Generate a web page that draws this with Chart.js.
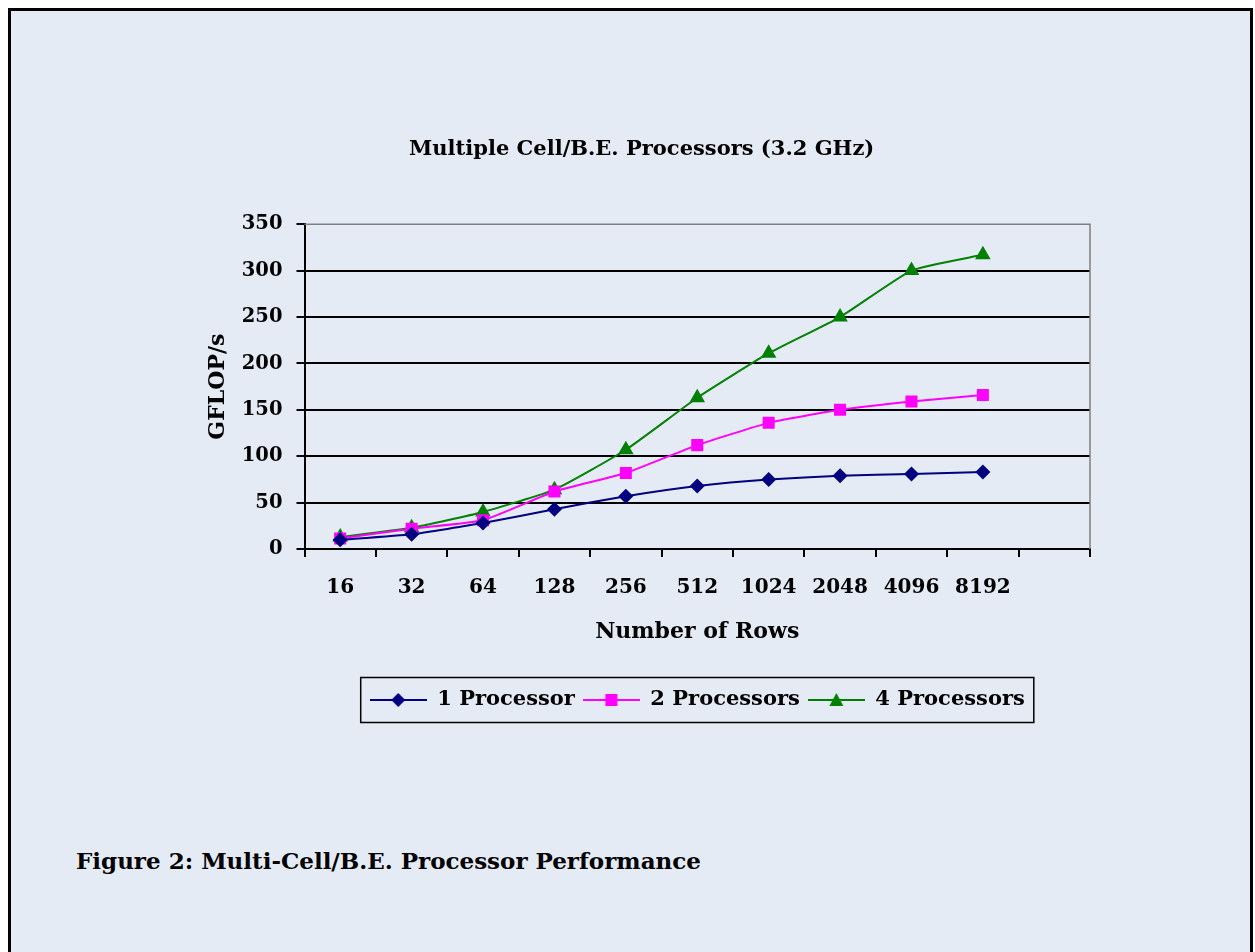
<!DOCTYPE html>
<html lang="en">
<head>
    <meta charset="UTF-8">
    <title>Multiple Cell/B.E. Processors</title>
    <style>
        body { margin: 0; background: #ffffff; font-family: 'DejaVu Serif', serif; }
        .frame { position: absolute; left: 8px; top: 8px; width: 1239px; height: 960px; background: #e4ebf5; border: 3px solid #000; border-bottom: none; }
        #wrap { position: absolute; left: 0; top: 0; width: 1255px; height: 760px; }
        .caption { position: absolute; left: 76px; top: 847px; font-weight: bold; font-size: 23px; color: #000; }
    </style>
</head>
<body>

<div class="frame"></div>
<div id="wrap"><canvas id="perfChart"></canvas></div>
<div class="caption">Figure 2: Multi-Cell/B.E. Processor Performance</div>

<script src="https://cdn.jsdelivr.net/npm/chart.js"></script>
<script>
    // category labels (last slot is empty in the original)
    const rowLabels = ['16', '32', '64', '128', '256', '512', '1024', '2048', '4096', '8192', ''];
    const seriesNames = ['1 Processor', '2 Processors', '4 Processors'];
    const oneProc = [10, 16, 28, 43, 57, 68, 75, 79, 81, 83];
    const twoProc = [11.5, 22, 31, 62, 82, 112, 136, 150, 159, 166];
    const fourProc = [13, 23, 40, 64, 107, 163, 211, 250, 300, 317];
    const yTicks = [0, 50, 100, 150, 200, 250, 300, 350];

    const FONT = 'DejaVu Serif';
    const colors = ['#000080', '#ff00ff', '#008000'];
    const markers = ['rectRot', 'rect', 'triangle'];
    const radii = [7.5, 8.5, 9];

    // small legend symbol: line with marker in the middle
    function legendSymbol(color, style) {
        const c = document.createElement('canvas');
        c.width = 57; c.height = 18;
        const g = c.getContext('2d');
        g.strokeStyle = color; g.fillStyle = color; g.lineWidth = 2;
        g.beginPath(); g.moveTo(0, 9); g.lineTo(57, 9); g.stroke();
        g.beginPath();
        if (style === 'rectRot') {
            g.moveTo(28.5, 2); g.lineTo(35.5, 9); g.lineTo(28.5, 16); g.lineTo(21.5, 9);
        } else if (style === 'rect') {
            g.rect(22.5, 3, 12, 12);
        } else {
            g.moveTo(28.5, 2); g.lineTo(35.5, 15); g.lineTo(21.5, 15);
        }
        g.closePath(); g.fill();
        return c;
    }

    const frameLines = {
        id: 'frameLines',
        afterDraw(chart) {
            const a = chart.chartArea, ctx = chart.ctx;
            ctx.save();
            ctx.strokeStyle = '#808080'; ctx.lineWidth = 1.5;
            ctx.beginPath();
            ctx.moveTo(a.left, a.top); ctx.lineTo(a.right, a.top); ctx.lineTo(a.right, a.bottom);
            ctx.stroke();
            // legend border
            const boxes = chart.legend.legendHitBoxes;
            if (boxes && boxes.length) {
                const l = Math.min(...boxes.map(b => b.left)) - 9;
                const r = Math.max(...boxes.map(b => b.left + b.width)) + 9;
                const t = Math.min(...boxes.map(b => b.top)) - 12;
                const btm = Math.max(...boxes.map(b => b.top + b.height)) + 12;
                ctx.strokeStyle = '#000'; ctx.lineWidth = 1.5;
                ctx.strokeRect(l, t, r - l, btm - t);
            }
            ctx.restore();
        }
    };

    const ctx = document.getElementById('perfChart').getContext('2d');
    const chart = new Chart(ctx, {
        type: 'line',
        data: {
            labels: rowLabels,
            datasets: [oneProc, twoProc, fourProc].map((d, i) => ({
                label: seriesNames[i],
                data: d,
                borderColor: colors[i],
                backgroundColor: colors[i],
                borderWidth: 2,
                pointStyle: markers[i],
                pointRadius: radii[i],
                pointBorderWidth: 0,
                tension: 0.15,
                fill: false
            }))
        },
        options: {
            responsive: true,
            maintainAspectRatio: false,
            animation: false,
            layout: { padding: { left: 208, right: 165, top: 137, bottom: 39.5 } },
            plugins: {
                title: {
                    display: true,
                    // trailing spaces nudge the centred title slightly left, as in the original
                    text: 'Multiple Cell/B.E. Processors (3.2 GHz)\u00a0\u00a0',
                    color: '#000',
                    font: { family: FONT, size: 21, weight: 'bold' },
                    padding: { top: 0, bottom: 62 }
                },
                legend: {
                    position: 'bottom',
                    fullSize: false,
                    labels: {
                        color: '#000',
                        font: { family: FONT, size: 21, weight: 'bold' },
                        usePointStyle: true,
                        pointStyleWidth: 57,
                        padding: 8,
                        generateLabels: (c) => c.data.datasets.map((ds, i) => ({
                            text: ds.label,
                            pointStyle: legendSymbol(colors[i], markers[i]),
                            fillStyle: colors[i],
                            strokeStyle: colors[i],
                            lineWidth: 0,
                            fontColor: '#000',
                            datasetIndex: i,
                            hidden: false
                        }))
                    }
                },
                tooltip: { enabled: false }
            },
            scales: {
                x: {
                    offset: true,
                    grid: { offset: true, drawOnChartArea: false, drawTicks: true, tickLength: 8, color: '#000', lineWidth: 2 },
                    border: { color: '#000', width: 2 },
                    ticks: { color: '#000', font: { family: FONT, size: 20, weight: 'bold', lineHeight: 1.0 }, padding: 21, maxRotation: 0, autoSkip: false },
                    title: {
                        display: true, text: 'Number of Rows', color: '#000',
                        font: { family: FONT, size: 22, weight: 'bold' },
                        padding: { top: 0, bottom: 36 }
                    }
                },
                y: {
                    min: 0, max: 350,
                    afterBuildTicks: (s) => { s.ticks = yTicks.map(v => ({ value: v })); },
                    grid: {
                        color: (c) => c.tick && c.tick.value === 350 ? 'rgba(0,0,0,0)' : '#000',
                        lineWidth: 2, tickLength: 8, tickColor: '#000'
                    },
                    border: { color: '#000', width: 2 },
                    ticks: { color: '#000', font: { family: FONT, size: 19.5, weight: 'bold' }, padding: 14 },
                    title: {
                        display: true, text: 'GFLOP/s', color: '#000',
                        font: { family: FONT, size: 22, weight: 'bold', lineHeight: 0.9 },
                        padding: { top: 0, bottom: 0 }
                    }
                }
            }
        },
        plugins: [frameLines]
    });
</script>

</body>
</html>
